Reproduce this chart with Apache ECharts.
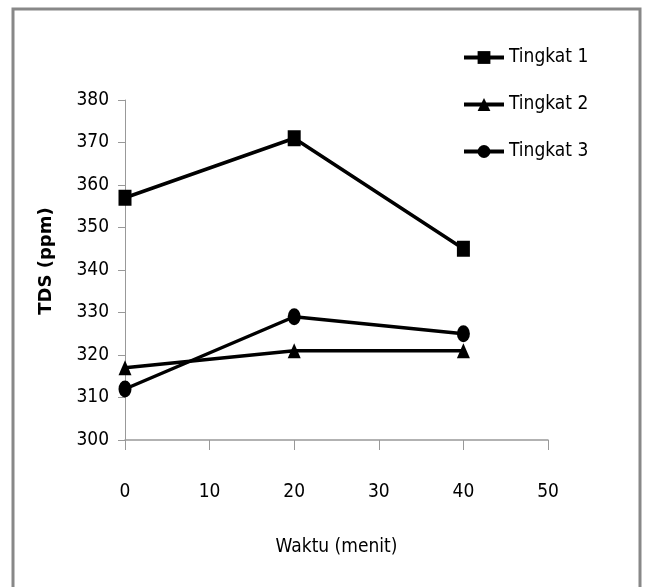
<!DOCTYPE html>
<html>
<head>
<meta charset="utf-8">
<script src="https://cdn.jsdelivr.net/npm/echarts@6/dist/echarts.min.js"></script>
<style>
  html, body { margin: 0; padding: 0; background: #fff; }
  #chart { width: 646px; height: 587px; }
</style>
</head>
<body>
<div id="chart"></div>
<script>
// data
var waktu = [0, 20, 40];
var tingkat1 = [357, 371, 345];
var tingkat2 = [317, 321, 321];
var tingkat3 = [312, 329, 325];
var seriesNames = ['Tingkat 1', 'Tingkat 2', 'Tingkat 3'];

var font = '"DejaVu Sans Condensed", "Liberation Sans", sans-serif';

function pairs(ys) {
  return waktu.map(function (x, i) { return [x, ys[i]]; });
}

var chart = echarts.init(document.getElementById('chart'));

var lineSeries = function (name, ys, symbol, size) {
  return {
    name: name,
    type: 'line',
    data: pairs(ys),
    symbol: symbol,
    symbolSize: size,
    lineStyle: { color: '#000', width: 3.5 },
    itemStyle: { color: '#000' },
    emphasis: { disabled: true },
    animation: false
  };
};

chart.setOption({
  animation: false,
  grid: { left: 125, right: 98, top: 100, bottom: 147 },
  legend: {
    left: 462,
    top: 48,
    padding: 0,
    orient: 'vertical',
    itemGap: 28,
    itemWidth: 40,
    itemHeight: 16,
    lineStyle: { width: 4 },
    textStyle: { fontFamily: font, fontSize: 19, color: '#000' },
    data: seriesNames
  },
  xAxis: {
    type: 'value',
    min: 0,
    max: 50,
    interval: 10,
    name: 'Waktu (menit)',
    nameLocation: 'middle',
    nameGap: 98,
    nameTextStyle: { fontFamily: font, fontSize: 19, color: '#000' },
    axisLine: { lineStyle: { color: '#999', width: 1.5 } },
    axisTick: { show: true, length: 10, lineStyle: { color: '#999' } },
    axisLabel: { fontFamily: font, fontSize: 19, color: '#000', margin: 43 },
    splitLine: { show: false }
  },
  yAxis: {
    type: 'value',
    min: 300,
    max: 380,
    interval: 10,
    name: 'TDS (ppm)',
    nameLocation: 'middle',
    nameGap: 70,
    nameTextStyle: { fontFamily: '"DejaVu Sans", sans-serif', fontWeight: 'bold', fontSize: 18, color: '#000', padding: [0, 0, 0, 18] },
    axisLine: { show: true, lineStyle: { color: '#999', width: 1 } },
    axisTick: { show: true, length: 7, lineStyle: { color: '#999' } },
    axisLabel: { fontFamily: font, fontSize: 19, color: '#000', margin: 16 },
    splitLine: { show: false }
  },
  graphic: [{
    type: 'polyline',
    shape: { points: [[13, 600], [13, 9], [640, 9], [640, 600]] },
    style: { stroke: '#888', lineWidth: 3, fill: null },
    silent: true
  }],
  series: [
    lineSeries(seriesNames[0], tingkat1, 'rect', [13, 16]),
    lineSeries(seriesNames[1], tingkat2, 'triangle', [13, 15]),
    lineSeries(seriesNames[2], tingkat3, 'circle', [13, 17])
  ]
});
</script>
</body>
</html>
